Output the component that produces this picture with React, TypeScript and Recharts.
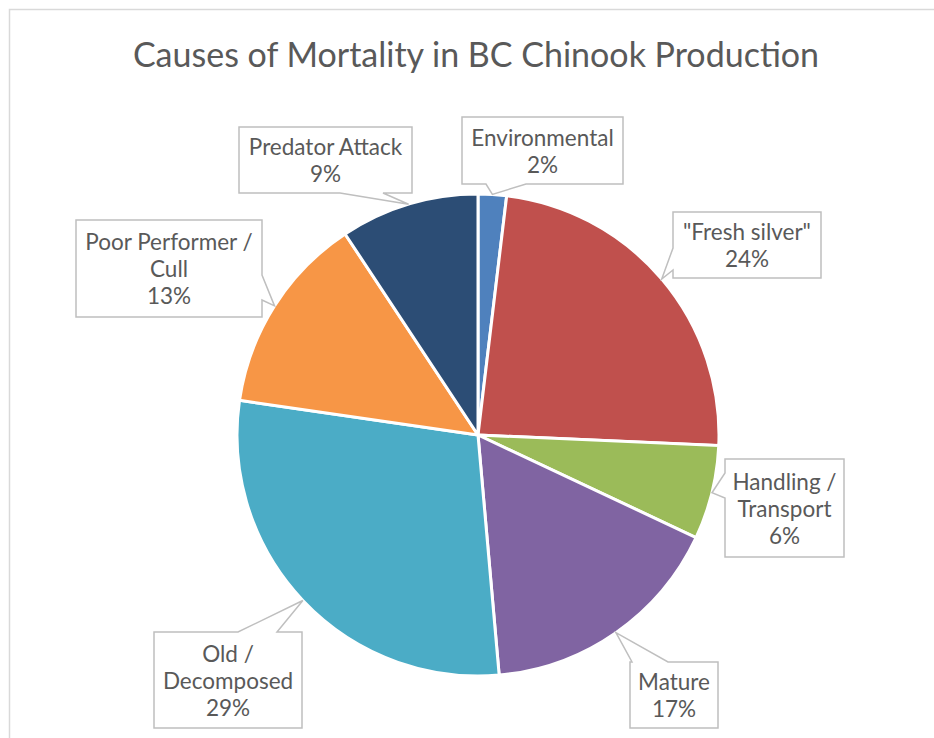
import React from "react";
import { PieChart, Pie, Cell } from "recharts";

const categories = [
  "Environmental",
  "\"Fresh silver\"",
  "Handling / Transport",
  "Mature",
  "Old / Decomposed",
  "Poor Performer / Cull",
  "Predator Attack",
];
const values = [1.9, 23.8, 6.3, 16.6, 28.7, 13.4, 9.3];
const labelLines = [
  ["Environmental"],
  ["\"Fresh silver\""],
  ["Handling /", "Transport"],
  ["Mature"],
  ["Old /", "Decomposed"],
  ["Poor Performer /", "Cull"],
  ["Predator Attack"],
];
const colors = ["#4F81BD", "#C0504D", "#9BBB59", "#8064A2", "#4BACC6", "#F79646", "#2C4D75"];

// callout layout: box [left, top, right, bottom], side of wedge, wedge base [a, b]
const callouts: { box: number[]; side: string; base: number[] }[] = [
  { box: [462, 117, 623, 184], side: "bottom", base: [486, 526] },
  { box: [673, 212, 821, 278], side: "left", base: [248, 270] },
  { box: [725, 459, 844, 557], side: "left", base: [473, 498] },
  { box: [630, 662, 718, 728], side: "top", base: [632, 668] },
  { box: [154, 632, 302, 728], side: "top", base: [238, 277] },
  { box: [76, 220, 262, 317], side: "right", base: [275, 300] },
  { box: [239, 127, 412, 193], side: "bottom", base: [340, 383] },
];

const data = categories.map((name, i) => ({ name, value: values[i] }));

function calloutPath(c: { box: number[]; side: string; base: number[] }, tx: number, ty: number) {
  const [L, T, R, B] = c.box;
  const [a, b] = c.base;
  let d = `M${L},${T}`;
  if (c.side === "top") d += ` L${a},${T} L${tx},${ty} L${b},${T}`;
  d += ` L${R},${T}`;
  if (c.side === "right") d += ` L${R},${a} L${tx},${ty} L${R},${b}`;
  d += ` L${R},${B}`;
  if (c.side === "bottom") d += ` L${b},${B} L${tx},${ty} L${a},${B}`;
  d += ` L${L},${B}`;
  if (c.side === "left") d += ` L${L},${b} L${tx},${ty} L${L},${a}`;
  d += " Z";
  return d;
}

const RADIAN = Math.PI / 180;

const renderLabel = (props: any) => {
  const { cx, cy, midAngle, outerRadius, index, percent } = props;
  const c = callouts[index];
  const tx = cx + outerRadius * Math.cos(-midAngle * RADIAN);
  const ty = cy + outerRadius * Math.sin(-midAngle * RADIAN);
  const [L, T, R, B] = c.box;
  const lines = [...labelLines[index], `${Math.round(percent * 100)}%`];
  const midX = (L + R) / 2;
  const midY = (T + B) / 2;
  const lh = 27;
  const startY = midY - ((lines.length - 1) * lh) / 2;
  return (
    <g key={`lbl-${index}`}>
      <path d={calloutPath(c, tx, ty)} fill="#FFFFFF" stroke="#BFBFBF" strokeWidth={1.5} />
      {lines.map((ln, j) => (
        <text
          key={j}
          x={midX}
          y={startY + j * lh}
          textAnchor="middle"
          dominantBaseline="central"
          fill="#595959"
          fontSize={22.5}
          fontFamily="Lato, 'Open Sans', sans-serif"
        >
          {ln}
        </text>
      ))}
    </g>
  );
};

export default function App() {
  return (
    <div style={{ position: "absolute", left: 0, top: 0, width: 934, height: 738, background: "#fff" }}>
      <PieChart width={934} height={738} margin={{ top: 0, right: 0, bottom: 0, left: 0 }}>
        <rect x={9.5} y={9.5} width={1000} height={1000} fill="#FFFFFF" stroke="#D9D9D9" strokeWidth={1.5} />
        <text
          x={476}
          y={53}
          textAnchor="middle"
          dominantBaseline="central"
          fill="#595959"
          fontSize={34}
          fontFamily="Lato, 'Open Sans', sans-serif"
        >
          Causes of Mortality in BC Chinook Production
        </text>
        <Pie
          data={data}
          dataKey="value"
          nameKey="name"
          cx={478}
          cy={435}
          outerRadius={241}
          startAngle={90}
          endAngle={-270}
          stroke="#FFFFFF"
          strokeWidth={3}
          isAnimationActive={false}
          label={renderLabel}
          labelLine={false}
        >
          {data.map((d, i) => (
            <Cell key={d.name} fill={colors[i]} />
          ))}
        </Pie>
      </PieChart>
    </div>
  );
}
